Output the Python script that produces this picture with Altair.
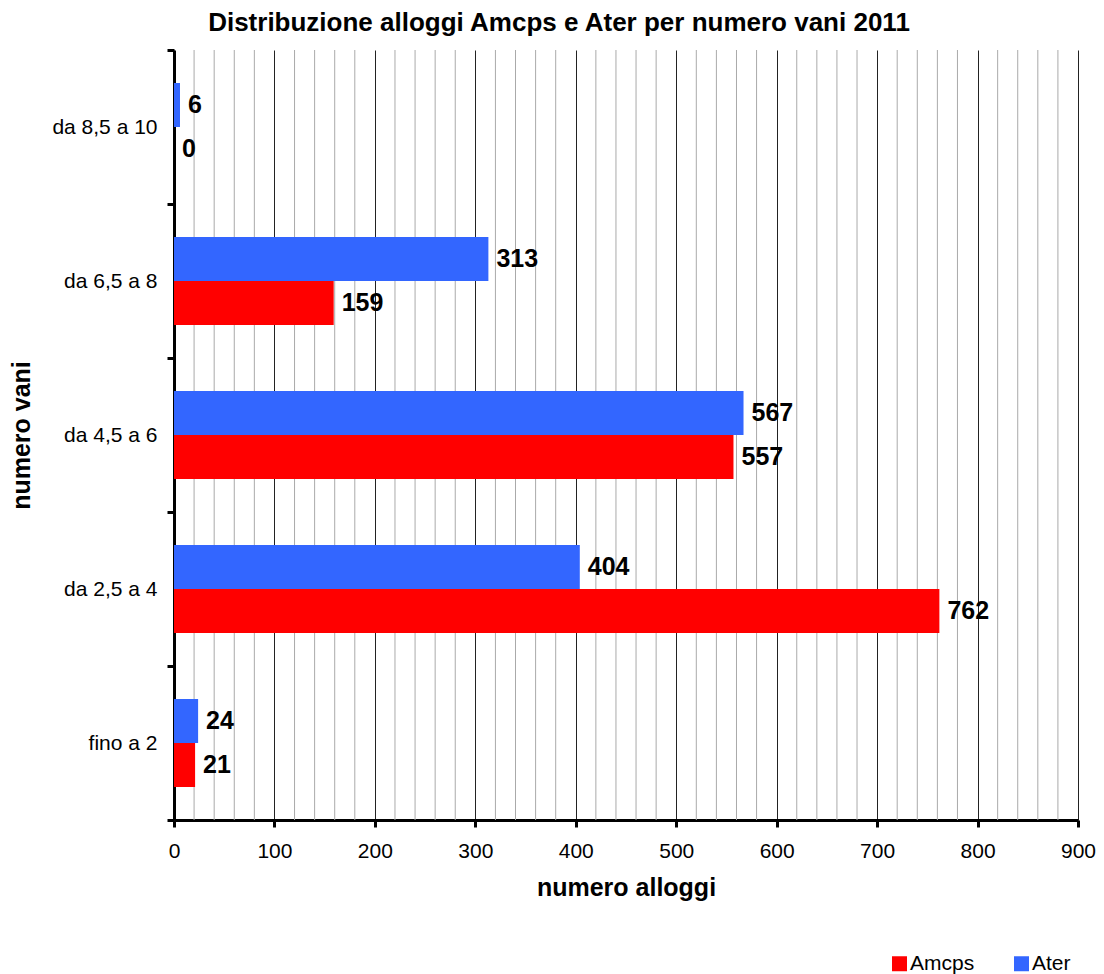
import altair as alt
import pandas as pd

categories = ["fino a 2", "da 2,5 a 4", "da 4,5 a 6", "da 6,5 a 8", "da 8,5 a 10"]
amcps = [21, 762, 557, 159, 0]
ater = [24, 404, 567, 313, 6]
series = ["Amcps", "Ater"]
colors = ["#FF0000", "#3366FF"]
major_ticks = [0, 100, 200, 300, 400, 500, 600, 700, 800, 900]
minor_ticks = [v for v in range(20, 900, 20) if v % 100 != 0]

rows = []
for c, a, b in zip(categories, amcps, ater):
    rows.append({"cat": c, "serie": "Amcps", "val": a})
    rows.append({"cat": c, "serie": "Ater", "val": b})
df = pd.DataFrame(rows)
df_minor = pd.DataFrame({"val": minor_ticks})

font = "Liberation Sans"
ycat_order = categories[::-1]

y_enc = alt.Y("cat:N", sort=ycat_order,
              scale=alt.Scale(paddingInner=0, paddingOuter=0),
              axis=alt.Axis(title="numero vani", titleFont=font, titleFontSize=25,
                            titleFontWeight="bold", titleColor="black", titlePadding=17,
                            labelFont=font, labelFontSize=21, labelColor="black",
                            labelPadding=10, tickBand="extent", tickSize=7, tickWidth=3,
                            tickColor="black", domainColor="black", domainWidth=3,
                            grid=False))
x_scale = alt.Scale(domain=[0, 900], nice=False)
x_axis = alt.Axis(values=major_ticks, labelOverlap=False,
                  title="numero alloggi", titleFont=font, titleFontSize=25,
                  titleFontWeight="bold", titleColor="black", titlePadding=14,
                  labelFont=font, labelFontSize=21, labelColor="black",
                  labelPadding=13, tickSize=7, tickWidth=3, tickColor="black",
                  domainColor="black", domainWidth=3,
                  grid=True, gridColor="#222222", gridWidth=1, labelFlush=False)
x_enc = alt.X("val:Q", scale=x_scale, axis=x_axis)

minor = alt.Chart(df_minor).mark_rule(color="#AAAAAA", strokeWidth=1).encode(x=x_enc)

yoff = alt.YOffset("serie:N", sort=["Ater", "Amcps"],
                   scale=alt.Scale(paddingInner=0, paddingOuter=0.75))

bars = alt.Chart(df).mark_bar().encode(
    x=x_enc, y=y_enc, yOffset=yoff,
    color=alt.Color("serie:N", scale=alt.Scale(domain=series, range=colors),
                    legend=alt.Legend(title=None, orient="none", direction="horizontal",
                                      legendX=715, legendY=903, symbolType="square",
                                      symbolSize=225, labelFont=font, labelFontSize=21,
                                      labelColor="black", columnPadding=36, labelOffset=0,
                                      symbolStrokeWidth=0)),
)

labels = alt.Chart(df).mark_text(align="left", baseline="middle", dx=8, font=font,
                                 fontSize=25, fontWeight="bold", color="black").encode(
    x="val:Q", y=alt.Y("cat:N", sort=ycat_order), yOffset=yoff, text="val:Q")

chart = alt.layer(minor, bars, labels).properties(
    width=904, height=770,
    title=alt.Title("Distribuzione alloggi Amcps e Ater per numero vani 2011",
                    font=font, fontSize=26, fontWeight="bold", color="black",
                    anchor="middle", frame="group", dx=-67, dy=9, offset=12),
    autosize=alt.AutoSizeParams(type="none"),
    padding={"left": 166, "top": 42, "right": 18, "bottom": 162},
).configure_view(stroke=None)

chart.save("out.html", embed_options={"renderer": "svg", "actions": False})
